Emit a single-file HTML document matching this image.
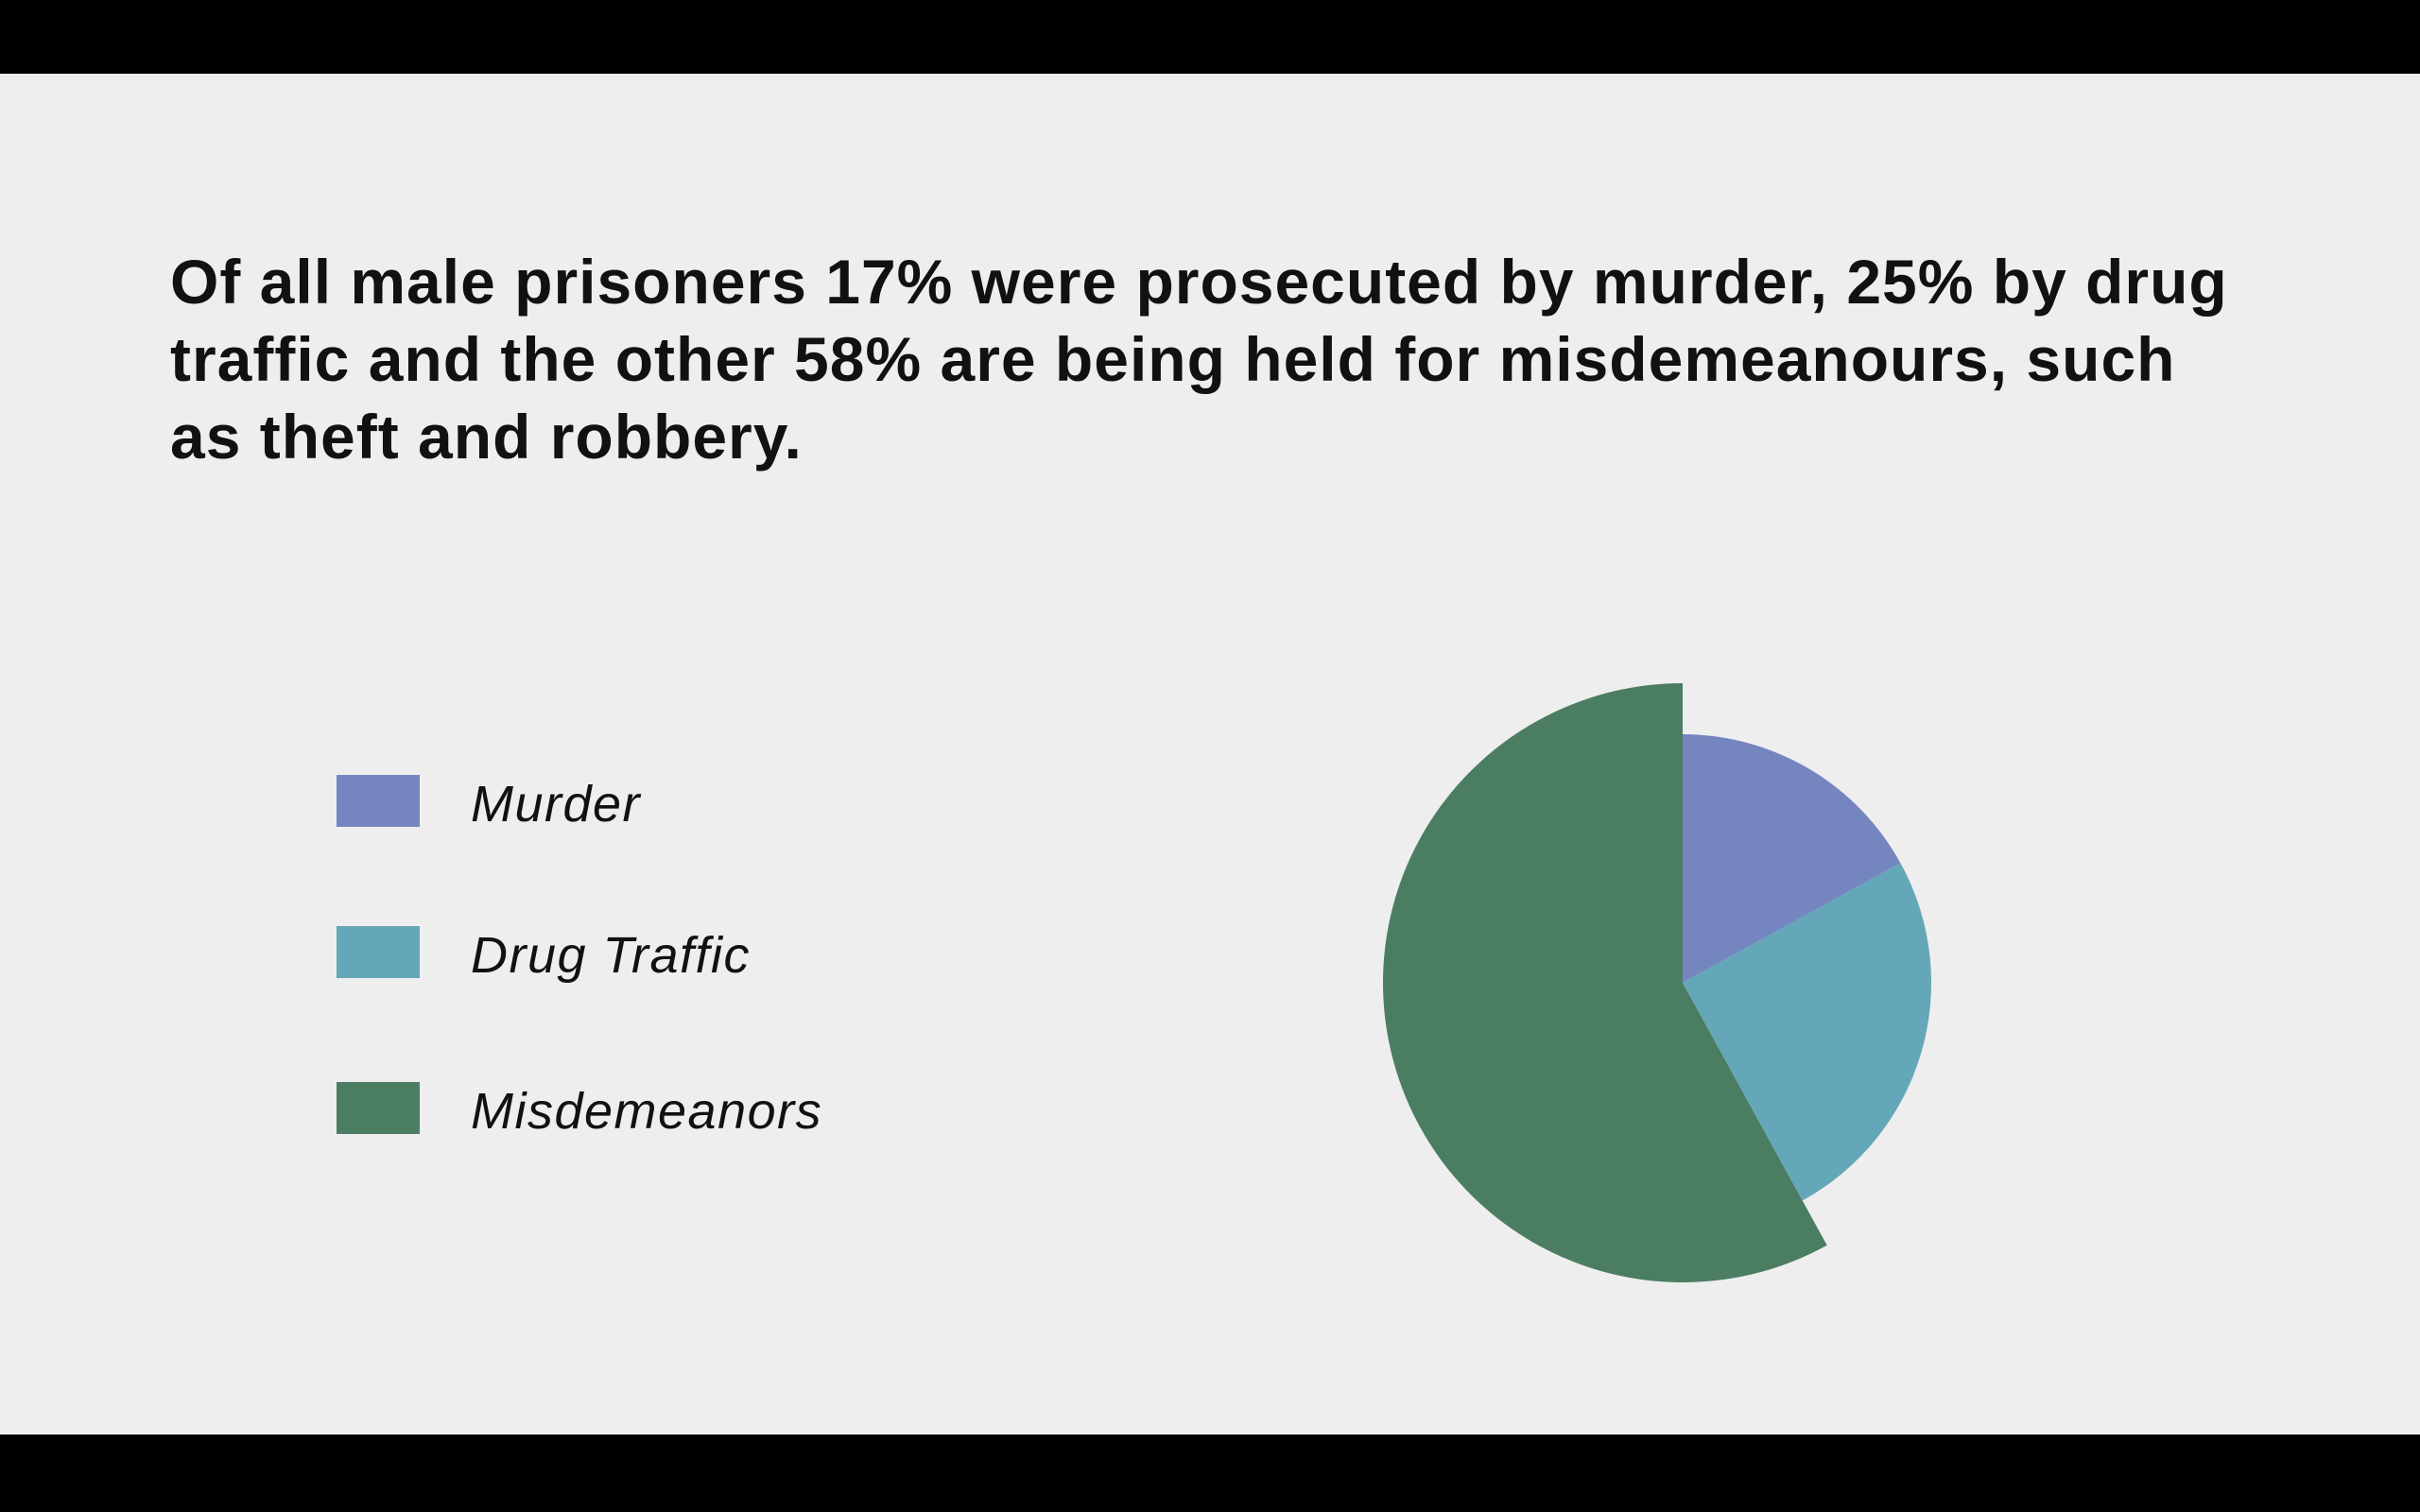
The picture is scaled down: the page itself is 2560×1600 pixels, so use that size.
<!DOCTYPE html>
<html><head><meta charset="utf-8"><style>
html,body{margin:0;padding:0;width:2560px;height:1600px;overflow:hidden;background:#000;}
#slide{position:absolute;left:0;top:78px;width:2560px;height:1440px;background:#eeeeee;}
#title{position:absolute;left:180px;top:257px;width:2400px;white-space:nowrap;font-family:"Liberation Sans",sans-serif;font-weight:bold;font-size:66px;letter-spacing:1px;line-height:82px;color:#111;margin:0;}
.leg{position:absolute;left:356px;width:88px;height:55px;}
.lt{position:absolute;left:498px;font-family:"Liberation Sans",sans-serif;font-style:italic;font-size:54px;letter-spacing:1.5px;color:#111;line-height:60px;}
</style></head><body>
<div id="slide"></div>
<p id="title">Of all male prisoners 17% were prosecuted by murder, 25% by drug<br>traffic and the other 58% are being held for misdemeanours, such<br>as theft and robbery.</p>
<div id="legend"></div>
<svg id="pie" width="2560" height="1600" style="position:absolute;left:0;top:0"></svg>
<script>
const categories=["Murder","Drug Traffic","Misdemeanors"];
const values=[17,25,58];
const colors=["#7585c0","#64a7b8","#4b7d63"];
const radii=[263,263,317];
const cx=1780,cy=1040;
const svg=document.getElementById('pie');
const total=values.reduce((a,b)=>a+b,0);
let acc=0;
function pt(a,r){return [cx+r*Math.sin(a),cy-r*Math.cos(a)];}
values.forEach((v,i)=>{
  const a0=acc/total*2*Math.PI; acc+=v; const a1=acc/total*2*Math.PI;
  const r=radii[i];const p0=pt(a0,r),p1=pt(a1,r);
  const large=(a1-a0)>Math.PI?1:0;
  const p=document.createElementNS('http://www.w3.org/2000/svg','path');
  p.setAttribute('d',`M${cx},${cy} L${p0[0]},${p0[1]} A${r},${r} 0 ${large} 1 ${p1[0]},${p1[1]} Z`);
  p.setAttribute('fill',colors[i]);
  
  
  svg.appendChild(p);
});
const leg=document.getElementById('legend');
const rowY=[847,1007,1172];
categories.forEach((c,i)=>{
  const sw=document.createElement('div');
  sw.className='leg';sw.style.top=(rowY[i]-27)+'px';sw.style.background=colors[i];
  
  
  leg.appendChild(sw);
  const t=document.createElement('div');
  t.className='lt';t.style.top=(rowY[i]-26)+'px';t.textContent=c;
  
  
  leg.appendChild(t);
});
</script>
</body></html>
